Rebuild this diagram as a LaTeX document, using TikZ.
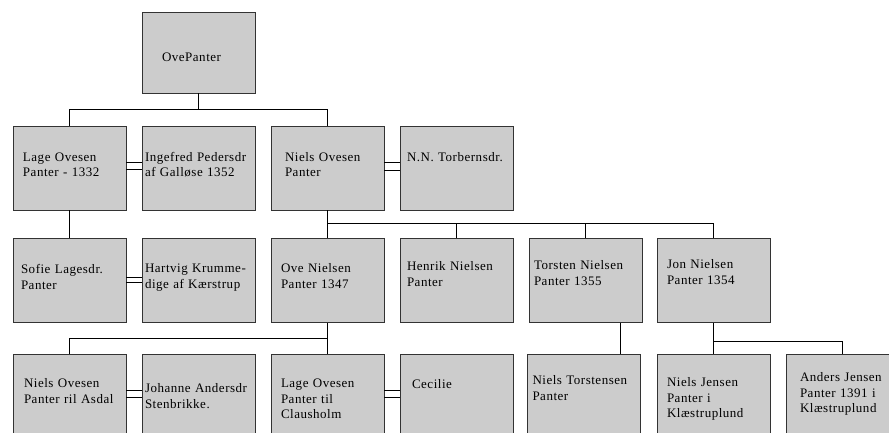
\documentclass[tikz,border=0pt]{standalone}
\usepackage{fontspec}
\setmainfont{Liberation Serif}[LetterSpace=4]
\definecolor{boxgray}{HTML}{CCCCCC}
\definecolor{boxline}{HTML}{333333}
\hyphenpenalty=10000
\exhyphenpenalty=10000

\begin{document}
\begin{tikzpicture}[
    x=1pt, y=-1pt,
    person/.code 2 args={%
      \pgfmathsetlengthmacro\persontw{113pt-2*#1}%
      \pgfmathsetlengthmacro\persondp{84pt-#2}%
      \tikzset{rectangle, draw=boxline, fill=boxgray, line width=0.8pt,
        inner xsep=#1, inner ysep=0pt, text width=\persontw,
        text height=#2, text depth=\persondp, align=left,
        font=\fontsize{13}{15.5}\selectfont}},
    link/.style={line width=0.8pt}
]
\useasboundingbox (0,0) rectangle (889,432);
\clip (0,0) rectangle (889,432);

% Generation 1
\node[person={20pt}{49pt}, text depth=32pt] (ove) at (198.5,52.5) {OvePanter};

% Generation 2
\node[person={10pt}{35pt}] (lage) at (69.5,168) {Lage Ovesen\\Panter - 1332};
\node[person={3pt}{35pt}] (ingefred) at (198.5,168) {Ingefred~Pedersdr\\af Galløse 1352};
\node[person={14pt}{35pt}] (niels) at (327.5,168) {Niels Ovesen\\Panter};
\node[person={7pt}{35pt}] (nn) at (456.5,168) {N.N.~Torbernsdr.};

% Generation 3
\node[person={8pt}{35pt}] (sofie) at (69.5,280.5) {Sofie Lagesdr.\\Panter};
\node[person={3pt}{34pt}] (hartvig) at (198.5,280.5) {Hartvig~Krumme-\\dige af Kærstrup};
\node[person={10pt}{34pt}] (oveN) at (327.5,280.5) {Ove Nielsen\\Panter 1347};
\node[person={7pt}{32pt}] (henrik) at (456.5,280.5) {Henrik Nielsen\\Panter};
\node[person={5pt}{31pt}] (torsten) at (585.5,280.5) {Torsten Nielsen\\Panter 1355};
\node[person={10pt}{30pt}] (jon) at (713.5,280.5) {Jon Nielsen\\Panter 1354};

% Generation 4
\node[person={11pt}{33pt}] (nielsO) at (69.5,396.5) {Niels Ovesen\\Panter~ril~Asdal};
\node[person={3pt}{38pt}] (johanne) at (198.5,396.5) {Johanne~Andersdr\\Stenbrikke.};
\node[person={10pt}{33pt}] (lageO) at (327.5,396.5) {Lage Ovesen\\Panter til\\Clausholm};
\node[person={12pt}{34pt}] (cecilie) at (456.5,396.5) {Cecilie};
\node[person={5pt}{30pt}] (nielsT) at (584,396.5) {Niels~Torstensen\\Panter};
\node[person={10pt}{32pt}] (nielsJ) at (713.5,396.5) {Niels Jensen\\Panter i\\Klæstruplund};
\node[person={14pt}{27pt}] (anders) at (842.5,396.5) {Anders Jensen\\Panter 1391 i\\Klæstruplund};

% Descent
\draw[link] (ove.south) -- ++(0,16) coordinate (b1);
\draw[link] (lage.north) |- (b1) -| (niels.north);
\draw[link] (lage) -- (sofie);
\draw[link] (niels.south) -- ++(0,13) coordinate (b2);
\draw[link] (oveN.north) -- (b2) -| (jon.north);
\draw[link] (henrik.north) -- (henrik.north |- b2);
\draw[link] (torsten.north) -- (torsten.north |- b2);
\draw[link] (oveN.south) -- ++(0,15) coordinate (b3);
\draw[link] (nielsO.north) |- (b3) -- (lageO.north);
\draw[link] ([xshift=35pt]torsten.south) -- ([xshift=35pt]torsten.south |- nielsT.north);
\draw[link] (jon.south) -- ++(0,18) coordinate (b4);
\draw[link] (nielsJ.north) |- (b4) -| (anders.north);

% Marriages
\draw[link] ([yshift=6pt]lage.east) -- ([yshift=6pt]ingefred.west)
            ([yshift=-1pt]lage.east) -- ([yshift=-1pt]ingefred.west);
\draw[link] ([yshift=6pt]niels.east) -- ([yshift=6pt]nn.west)
            ([yshift=-2pt]niels.east) -- ([yshift=-2pt]nn.west);
\draw[link] ([yshift=3pt]sofie.east) -- ([yshift=3pt]hartvig.west)
            ([yshift=-2pt]sofie.east) -- ([yshift=-2pt]hartvig.west);
\draw[link] ([yshift=6pt]nielsO.east) -- ([yshift=6pt]johanne.west)
            ([yshift=-1pt]nielsO.east) -- ([yshift=-1pt]johanne.west);
\draw[link] ([yshift=6pt]lageO.east) -- ([yshift=6pt]cecilie.west)
            ([yshift=-1pt]lageO.east) -- ([yshift=-1pt]cecilie.west);

\end{tikzpicture}
\end{document}
